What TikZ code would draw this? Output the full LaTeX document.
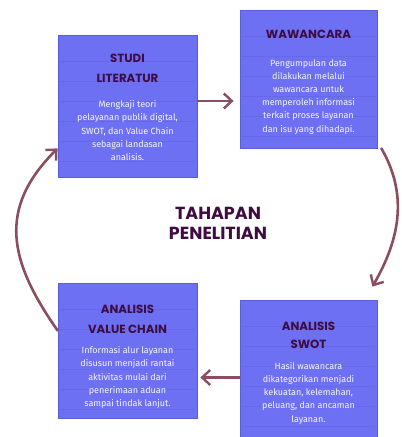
\documentclass[tikz,border=0pt]{standalone}
\usepackage{fontspec}
\setmainfont{Fira Sans}
\newfontfamily\titlefont{Poppins}
\usetikzlibrary{arrows.meta,positioning}
\definecolor{notefill}{HTML}{6D70F2}
\definecolor{notedraw}{HTML}{5A5DD8}
\definecolor{noteline}{HTML}{6669E6}
\definecolor{inkplum}{HTML}{3E0C40}
\definecolor{flowrose}{HTML}{8A4E5E}
\tikzset{
  note/.style = {rectangle, fill=notefill, draw=notedraw, line width=0.8pt,
    inner sep=0pt},
  notetitle/.style = {align=center, inner sep=0pt, text=inkplum,
    font=\titlefont\bfseries\fontsize{11.8}{20}\selectfont},
  notebody/.style = {align=center, inner sep=0pt, text=white!95!notefill,
    font=\fontsize{9}{13.2}\selectfont},% isi catatan
  flow/.style = {draw=flowrose, line width=2.6pt, line cap=round,
    -{Straight Barb[length=8pt,width=15pt,line width=2.4pt]}}
}

\begin{document}
\begin{tikzpicture}[x=1pt,y=1pt]
\useasboundingbox (0,0) rectangle (402,437);
% catatan
\node [note, minimum width=139, minimum height=142] (lit) at (127.5,331) {};
\node [note, minimum width=137, minimum height=138] (waw) at (308.5,358) {};
\node [note, minimum width=139, minimum height=135] (vc) at (127.5,86.5) {};
\node [note, minimum width=137, minimum height=145] (swot) at (308.5,64.5) {};
% garis buku
\foreach \b/\n in {lit/127,waw/127,vc/127,swot/147}
  \foreach \d in {27,47,...,\n}
    \draw [noteline, line width=0.4pt]
      ([xshift=2,yshift=-\d]\b.north west) -- ([xshift=-2,yshift=-\d]\b.north east);
% judul dan isi
\node [notetitle] (littitle) at ([yshift=-34]lit.north) {STUDI\\LITERATUR};
\node [notebody] (litbody) at ([yshift=-96]lit.north)
  {Mengkaji teori\\pelayanan publik digital,\\SWOT, dan Value Chain\\sebagai landasan\\analisis.};
\node [notetitle] (wawtitle) at ([yshift=-25]waw.north) {WAWANCARA};
\node [notebody] (wawbody) at ([yshift=-87]waw.north)
  {Pengumpulan data\\dilakukan melalui\\wawancara untuk\\memperoleh informasi\\terkait proses layanan\\dan isu yang dihadapi.};
\node [notetitle] (vctitle) at ([yshift=-37]vc.north) {ANALISIS\\VALUE CHAIN};
\node [notebody] (vcbody) at ([yshift=-95]vc.north)
  {Informasi alur layanan\\disusun menjadi rantai\\aktivitas mulai dari\\penerimaan aduan\\sampai tindak lanjut.};
\node [notetitle, font=\titlefont\bfseries\fontsize{11.8}{18}\selectfont]
  (swottitle) at ([yshift=-36]swot.north) {ANALISIS\\SWOT};
\node [notebody] (swotbody) at ([yshift=-93.5]swot.north)
  {Hasil wawancara\\dikategorikan menjadi\\kekuatan, kelemahan,\\peluang, dan ancaman\\layanan.};
% pusat
\node [notetitle, font=\titlefont\bfseries\fontsize{17.5}{20}\selectfont]
  (center) at (218,214) {TAHAPAN\\PENELITIAN};
% alur
\coordinate (swotin) at ([xshift=-5,yshift=13]swot.north east);
\coordinate (litin) at ([yshift=29]lit.south west);
\draw [flow, shorten >=6pt] ([yshift=5]lit.east) -- ([yshift=5]lit.east -| waw.west);
\draw [flow] ([xshift=4]waw.south east) to[out=-60, in=60] (swotin);
\draw [flow, shorten >=3pt] ([yshift=-5]swot.west) -- ([yshift=-5]swot.west -| vc.east);
\draw [flow] ([yshift=20]vc.west) to[out=125, in=-135, looseness=1.2] (litin);
\end{tikzpicture}
\end{document}
